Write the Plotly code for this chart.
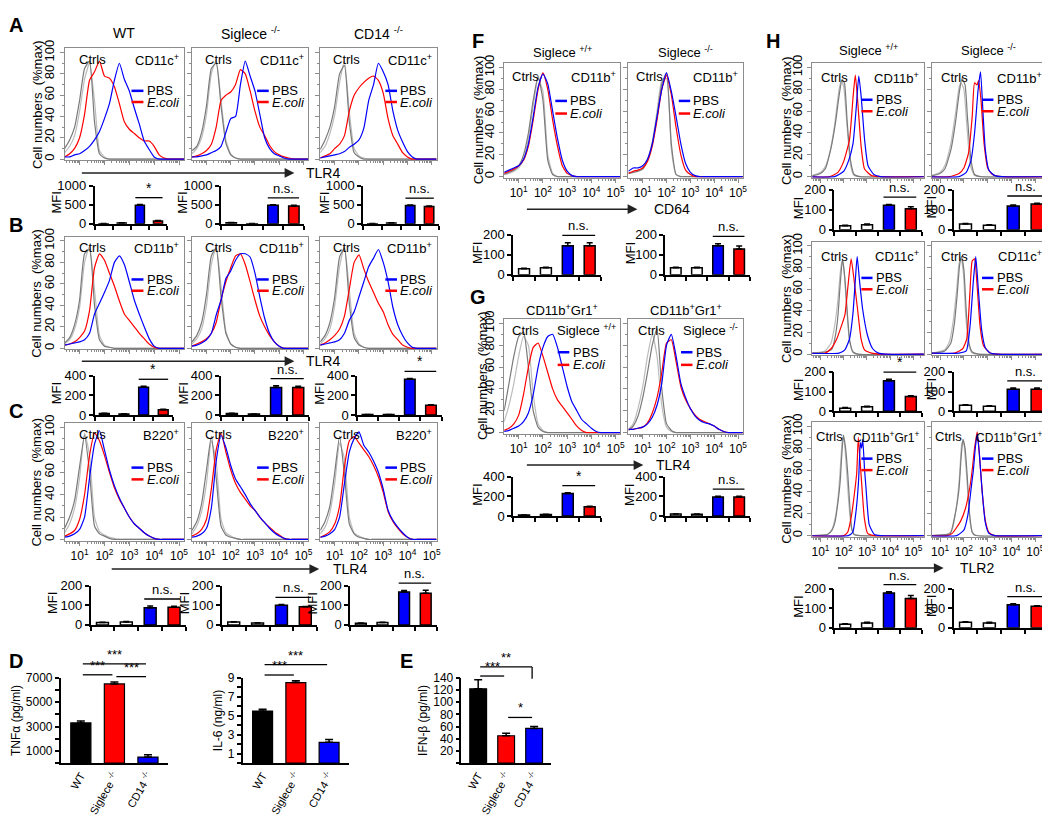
import plotly.graph_objects as go

W, H = 1050, 821
FONT = 'Liberation Sans, Arial, sans-serif'
FR = '#8c8c8c'
CT_DARK, CT_LIGHT = '#7a7a7a', '#bcbcbc'
BLUE, RED = '#0000ff', '#ff0000'

# ---------------- data: histogram curves (% of max) -----------------
# values read on a log10 grid of fluorescence (0.4 .. 5.2, step 0.2); missing tail = 0
GRID = [0.4, 0.6, 0.8, 1.0, 1.2, 1.4, 1.6, 1.8, 2.0, 2.2, 2.4, 2.6, 2.8,
        3.0, 3.2, 3.4, 3.6, 3.8, 4.0, 4.2, 4.4, 4.6, 4.8, 5.0, 5.2]

A_WT_C1 = [10, 18, 30, 55, 85, 92, 35, 5, 1, 0]
A_WT_C2 = [6, 12, 22, 45, 75, 90, 55, 8, 2, 0]
A_WT_PBS = [2, 2, 4, 5, 8, 12, 18, 26, 38, 52, 74, 90, 75, 64, 48, 33, 17, 9, 2, 0]
A_WT_EC = [2, 5, 10, 20, 42, 74, 82, 92, 78, 76, 68, 52, 35, 28, 24, 20, 17, 17, 12, 4, 1, 0]
A_SG_C1 = [8, 12, 25, 50, 85, 90, 50, 15, 4, 1, 0]
A_SG_C2 = [5, 10, 20, 42, 80, 93, 55, 18, 5, 1, 0]
A_SG_PBS = [2, 2, 3, 4, 6, 8, 12, 25, 38, 40, 70, 92, 78, 64, 42, 20, 10, 5, 3, 1, 0]
A_SG_EC = [2, 3, 5, 8, 14, 30, 55, 60, 63, 70, 84, 80, 64, 45, 30, 22, 13, 7, 4, 2, 1, 0]
A_CD_C1 = [9, 18, 30, 50, 80, 88, 35, 6, 2, 0]
A_CD_C2 = [6, 12, 24, 42, 72, 92, 45, 10, 3, 1, 0]
A_CD_PBS = [1, 2, 3, 4, 5, 7, 11, 14, 18, 29, 55, 70, 90, 82, 70, 45, 27, 16, 7, 2, 0]
A_CD_EC = [1, 3, 5, 10, 14, 22, 45, 60, 67, 72, 76, 78, 74, 62, 38, 22, 14, 6, 2, 0]

B_WT_C1 = [5, 10, 22, 45, 88, 92, 40, 8, 2, 1, 0]
B_WT_C2 = [4, 8, 18, 38, 80, 95, 55, 12, 3, 1, 0]
B_WT_PBS = [3, 4, 5, 6, 8, 14, 32, 42, 52, 63, 80, 86, 78, 62, 45, 32, 20, 9, 2, 0]
B_WT_EC = [3, 4, 6, 10, 16, 35, 75, 88, 82, 70, 58, 44, 32, 26, 20, 14, 9, 4, 1, 0]
B_SG_C1 = [6, 12, 24, 50, 86, 93, 48, 14, 4, 1, 0]
B_SG_C2 = [4, 9, 18, 40, 78, 95, 58, 16, 4, 1, 0]
B_SG_PBS = [2, 3, 5, 8, 14, 31, 45, 65, 72, 82, 88, 88, 85, 70, 48, 28, 14, 6, 2, 0]
B_SG_EC = [2, 4, 6, 9, 14, 24, 45, 62, 75, 86, 88, 78, 62, 45, 30, 20, 12, 6, 2, 0]
B_CD_C1 = [6, 12, 24, 48, 85, 93, 42, 10, 3, 1, 0]
B_CD_C2 = [4, 9, 18, 40, 76, 95, 55, 14, 4, 1, 0]
B_CD_PBS = [3, 4, 5, 6, 8, 14, 26, 34, 48, 62, 76, 84, 92, 80, 62, 38, 22, 12, 5, 1, 0]
B_CD_EC = [3, 5, 8, 12, 18, 30, 55, 80, 87, 74, 62, 52, 42, 34, 22, 13, 8, 3, 1, 0]

C_WT_C1 = [10, 20, 35, 65, 93, 60, 12, 5, 3, 1, 0]
C_WT_C2 = [6, 14, 28, 55, 95, 75, 20, 7, 4, 2, 1, 0]
C_WT_PBS = [2, 3, 5, 9, 20, 55, 85, 97, 80, 62, 48, 37, 28, 20, 14, 10, 6, 3, 1, 0]
C_WT_EC = [3, 5, 8, 18, 40, 75, 95, 88, 75, 60, 46, 36, 28, 20, 14, 10, 6, 3, 1, 0]
C_SG_C1 = [8, 16, 32, 62, 92, 55, 12, 4, 2, 1, 0]
C_SG_C2 = [5, 12, 25, 50, 88, 70, 18, 6, 3, 1, 0]
C_SG_PBS = [2, 3, 5, 10, 28, 70, 93, 82, 66, 54, 47, 40, 32, 26, 20, 15, 10, 6, 3, 1, 0]
C_SG_EC = [3, 5, 9, 18, 45, 80, 95, 78, 62, 50, 42, 36, 30, 26, 20, 15, 11, 7, 4, 1, 0]
C_CD_C1 = [8, 16, 30, 60, 92, 58, 14, 5, 2, 1, 0]
C_CD_C2 = [5, 11, 24, 50, 86, 72, 20, 6, 3, 1, 0]
C_CD_PBS = [2, 3, 5, 9, 20, 50, 78, 90, 96, 84, 78, 70, 60, 45, 26, 17, 11, 6, 2, 0]
C_CD_EC = [2, 4, 7, 14, 30, 65, 88, 92, 86, 80, 74, 66, 56, 42, 25, 16, 10, 5, 2, 0]

F_PP_C1 = [2, 4, 6, 10, 20, 40, 70, 92, 70, 15, 2, 0]
F_PP_C2 = [2, 3, 5, 8, 16, 35, 65, 90, 78, 20, 3, 0]
F_PP_PBS = [4, 6, 8, 10, 16, 30, 55, 82, 94, 85, 60, 35, 15, 5, 1, 0]
F_PP_EC = [3, 5, 7, 10, 15, 28, 52, 80, 95, 80, 52, 28, 10, 3, 1, 0]
F_KO_C1 = [3, 4, 5, 7, 15, 30, 55, 85, 95, 30, 2, 0]
F_KO_C2 = [3, 4, 5, 8, 16, 32, 60, 88, 90, 25, 2, 0]
F_KO_PBS = [5, 8, 8, 10, 16, 30, 55, 80, 95, 78, 55, 30, 12, 4, 1, 0]
F_KO_EC = [3, 5, 6, 8, 14, 28, 52, 80, 93, 75, 45, 20, 6, 2, 0]

G_PP_C1 = [20, 45, 70, 88, 92, 60, 20, 5, 1, 0]
G_PP_C2 = [10, 25, 45, 70, 88, 80, 35, 8, 2, 0]
G_PP_PBS = [1, 2, 4, 6, 10, 18, 35, 60, 78, 88, 90, 78, 60, 42, 28, 20, 12, 8, 4, 1, 0]
G_PP_EC = [2, 4, 8, 16, 35, 60, 78, 82, 70, 55, 40, 30, 24, 18, 12, 6, 2, 0]
G_KO_C1 = [2, 6, 15, 32, 55, 80, 95, 40, 8, 2, 0]
G_KO_C2 = [3, 8, 22, 42, 70, 90, 70, 25, 5, 1, 0]
G_KO_PBS = [3, 3, 4, 5, 8, 14, 25, 45, 80, 90, 70, 45, 32, 22, 15, 11, 9, 8, 6, 3, 1, 0]
G_KO_EC = [3, 3, 4, 5, 9, 18, 32, 55, 82, 85, 65, 42, 30, 22, 16, 12, 10, 8, 6, 3, 1, 0]

# panel H: (log10 fluorescence, % of max) pairs
H1A_C1 = [(0.65, 1), (1.0, 3), (1.2, 7), (1.45, 26), (1.65, 50), (1.8, 74), (1.93, 89), (2.03, 86), (2.15, 50), (2.3, 14), (2.45, 2), (2.7, 0)]
H1A_C2 = [(0.65, 1), (1.0, 4), (1.2, 9), (1.4, 22), (1.6, 46), (1.8, 80), (1.9, 88), (2.0, 82), (2.15, 45), (2.3, 10), (2.45, 1), (2.7, 0)]
H1A_PBS = [(1.6, 0), (2.0, 5), (2.2, 14), (2.4, 30), (2.55, 66), (2.65, 92), (2.75, 74), (2.9, 34), (3.05, 10), (3.3, 2), (3.6, 0)]
H1A_EC = [(1.4, 0), (1.75, 4), (2.0, 14), (2.25, 34), (2.4, 72), (2.5, 93), (2.6, 70), (2.75, 28), (2.9, 7), (3.2, 1), (3.6, 0)]
H1B_C1 = [(0.65, 1), (1.0, 3), (1.2, 7), (1.45, 24), (1.65, 50), (1.8, 76), (1.92, 90), (2.05, 84), (2.15, 55), (2.3, 15), (2.45, 2), (2.7, 0)]
H1B_C2 = [(0.65, 1), (1.0, 4), (1.2, 10), (1.45, 30), (1.65, 58), (1.8, 82), (1.88, 86), (2.0, 80), (2.12, 48), (2.28, 10), (2.45, 1), (2.7, 0)]
H1B_PBS = [(1.8, 0), (2.1, 4), (2.3, 15), (2.45, 40), (2.6, 80), (2.7, 96), (2.8, 60), (2.9, 25), (3.05, 6), (3.3, 1), (3.6, 0)]
H1B_EC = [(1.4, 0), (1.8, 3), (2.0, 8), (2.2, 22), (2.35, 55), (2.45, 86), (2.55, 84), (2.62, 88), (2.72, 70), (2.85, 30), (3.0, 8), (3.2, 2), (3.6, 0)]
H2A_C1 = [(0.65, 1), (1.2, 2), (1.5, 5), (1.65, 18), (1.75, 35), (1.85, 65), (1.95, 88), (2.05, 70), (2.15, 40), (2.25, 14), (2.4, 2), (2.6, 0)]
H2A_C2 = [(0.65, 1), (1.2, 3), (1.45, 10), (1.6, 25), (1.75, 50), (1.85, 75), (1.92, 86), (2.0, 80), (2.12, 45), (2.25, 12), (2.4, 2), (2.6, 0)]
H2A_PBS = [(1.8, 1), (2.05, 4), (2.25, 14), (2.4, 38), (2.5, 68), (2.58, 90), (2.68, 68), (2.82, 41), (3.03, 17), (3.25, 5), (3.5, 1), (3.8, 0)]
H2A_EC = [(1.2, 1), (1.45, 5), (1.7, 14), (1.9, 26), (2.05, 36), (2.18, 62), (2.32, 88), (2.45, 68), (2.6, 41), (2.75, 14), (2.9, 4), (3.2, 1), (3.6, 0)]
H2B_C1 = [(0.65, 1), (1.2, 3), (1.45, 10), (1.6, 28), (1.72, 55), (1.82, 82), (1.9, 90), (2.0, 78), (2.1, 40), (2.22, 10), (2.35, 2), (2.6, 0)]
H2B_C2 = [(0.65, 1), (1.2, 4), (1.4, 12), (1.55, 30), (1.7, 60), (1.8, 84), (1.88, 88), (1.98, 75), (2.08, 35), (2.2, 8), (2.35, 1), (2.6, 0)]
H2B_PBS = [(1.8, 1), (2.1, 3), (2.26, 26), (2.4, 68), (2.5, 90), (2.6, 62), (2.75, 22), (2.9, 6), (3.1, 1), (3.4, 0)]
H2B_EC = [(1.6, 1), (1.95, 5), (2.12, 14), (2.25, 55), (2.35, 86), (2.45, 88), (2.55, 65), (2.68, 26), (2.82, 8), (3.1, 1), (3.4, 0)]
H3A_C1 = [(0.65, 0), (1.3, 1), (1.5, 5), (1.62, 12), (1.75, 30), (1.85, 50), (1.92, 75), (1.99, 92), (2.08, 80), (2.18, 55), (2.27, 25), (2.35, 6), (2.45, 1), (2.7, 0)]
H3A_C2 = [(0.65, 0), (1.3, 1), (1.5, 6), (1.65, 18), (1.78, 40), (1.88, 70), (1.95, 90), (2.03, 85), (2.12, 60), (2.22, 30), (2.32, 8), (2.45, 1), (2.7, 0)]
H3A_PBS = [(2.2, 0), (2.39, 3), (2.53, 22), (2.64, 50), (2.72, 85), (2.77, 80), (2.82, 88), (2.9, 60), (2.96, 44), (3.1, 10), (3.32, 1), (3.6, 0)]
H3A_EC = [(2.0, 0), (2.17, 3), (2.34, 19), (2.46, 38), (2.56, 57), (2.63, 90), (2.7, 70), (2.8, 40), (2.89, 16), (3.03, 2), (3.3, 0)]
H3B_C1 = [(0.65, 0), (1.3, 1), (1.44, 2), (1.64, 20), (1.79, 41), (1.88, 70), (1.96, 88), (2.05, 80), (2.14, 55), (2.24, 20), (2.35, 3), (2.5, 0)]
H3B_C2 = [(0.65, 0), (1.3, 1), (1.5, 5), (1.68, 25), (1.82, 55), (1.92, 85), (1.98, 86), (2.08, 65), (2.18, 35), (2.28, 10), (2.4, 1), (2.6, 0)]
H3B_PBS = [(1.7, 0), (2.0, 5), (2.17, 19), (2.31, 44), (2.4, 60), (2.48, 80), (2.56, 93), (2.65, 75), (2.77, 40), (2.9, 12), (3.05, 2), (3.3, 0)]
H3B_EC = [(1.3, 0), (1.51, 2), (1.86, 13), (2.07, 25), (2.25, 44), (2.35, 60), (2.45, 80), (2.56, 95), (2.65, 75), (2.77, 40), (2.9, 14), (3.05, 3), (3.3, 0)]

# ---------------- data: MFI bars (ctrl1, ctrl2, PBS, E.coli) -----------------
A_WT_MFI, A_WT_ERR = [5, 25, 490, 75], [2, 4, 15, 10]
A_SG_MFI, A_SG_ERR = [30, 5, 490, 470], [5, 2, 10, 15]
A_CD_MFI, A_CD_ERR = [5, 25, 480, 455], [2, 4, 12, 12]
B_WT_MFI, B_WT_ERR = [15, 12, 285, 55], [3, 2, 8, 5]
B_SG_MFI, B_SG_ERR = [15, 10, 280, 280], [3, 2, 20, 15]
B_CD_MFI, B_CD_ERR = [5, 5, 365, 100], [2, 2, 8, 5]
C_WT_MFI, C_WT_ERR = [12, 15, 88, 90], [2, 2, 8, 5]
C_SG_MFI, C_SG_ERR = [15, 10, 100, 92], [1, 1, 4, 2]
C_CD_MFI, C_CD_ERR = [8, 12, 168, 162], [2, 2, 8, 15]
F_PP_MFI, F_PP_ERR = [30, 35, 145, 145], [3, 3, 15, 15]
F_KO_MFI, F_KO_ERR = [35, 35, 145, 128], [3, 3, 10, 15]
G_PP_MFI, G_PP_ERR = [10, 15, 230, 95], [2, 3, 8, 5]
G_KO_MFI, G_KO_ERR = [20, 18, 195, 195], [2, 2, 8, 6]
H1A_MFI, H1A_ERR = [20, 25, 122, 105], [3, 3, 4, 10]
H1B_MFI, H1B_ERR = [28, 22, 118, 128], [3, 3, 5, 4]
H2A_MFI, H2A_ERR = [15, 22, 155, 75], [3, 3, 8, 3]
H2B_MFI, H2B_ERR = [30, 25, 112, 112], [3, 3, 6, 6]
H3A_MFI, H3A_ERR = [18, 25, 178, 150], [3, 3, 6, 15]
H3B_MFI, H3B_ERR = [28, 25, 118, 110], [3, 3, 5, 3]

# ---------------- data: cytokines (WT, Siglece-/-, CD14-/-) -----------------
GENOTYPES = ['WT', 'Siglece <sup>-/-</sup>', 'CD14 <sup>-/-</sup>']
TNF, TNF_ERR = [3300, 6500, 500], [150, 150, 180]
IL6, IL6_ERR = [5.5, 8.5, 2.2], [0.2, 0.2, 0.3]
IFN, IFN_ERR = [122, 45, 57], [15, 4, 3]

DEC_VALS = [10, 100, 1000, 10000, 100000]
DEC_TEXT = ['10<sup>1</sup>', '10<sup>2</sup>', '10<sup>3</sup>', '10<sup>4</sup>', '10<sup>5</sup>']
MINOR_VALS = [m * 10 ** e for e in range(0, 6) for m in range(2, 10)]

fig = go.Figure()
layout = dict(width=W, height=H, margin=dict(l=0, r=0, t=0, b=0),
              paper_bgcolor='white', plot_bgcolor='white', showlegend=False,
              font=dict(family=FONT, size=12, color='black'))
ann, shp = [], []
cnt = [0]


def px(x):
    return x / W


def py(y):
    return 1 - y / H


def axes(x0, x1, y0, y1, xkw, ykw):
    cnt[0] += 1
    s = '' if cnt[0] == 1 else str(cnt[0])
    layout['xaxis' + s] = dict(domain=[px(x0), px(x1)], anchor='y' + s, **xkw)
    layout['yaxis' + s] = dict(domain=[py(y1), py(y0)], anchor='x' + s, **ykw)
    return 'x' + s, 'y' + s


def text(x, y, t, size=13, xa='center', ya='middle', xref='paper', yref='paper', angle=0):
    if xref == 'paper':
        x = px(x)
    if yref == 'paper':
        y = py(y)
    ann.append(dict(x=x, y=y, xref=xref, yref=yref, text=t, showarrow=False, xanchor=xa,
                    yanchor=ya, textangle=angle, borderpad=0,
                    font=dict(size=size, family=FONT, color='black')))


def hline(xa_px, xb_px, y_px, w=1.3):
    shp.append(dict(type='line', xref='paper', yref='paper', x0=px(xa_px), x1=px(xb_px),
                    y0=py(y_px), y1=py(y_px), line=dict(color='black', width=w)))


def arrow(xs, xe, y, label, lx):
    ann.append(dict(x=px(xe), y=py(y), xref='paper', yref='paper', ax=-(xe - xs), ay=0,
                    axref='pixel', ayref='pixel', text='', showarrow=True, arrowhead=2,
                    arrowsize=1.3, arrowwidth=1.5, arrowcolor='#222222'))
    text(lx, y, label, size=14, xa='left')


def curve_xy(c):
    if isinstance(c[0], tuple):
        xs = [p[0] for p in c]
        ys = [p[1] for p in c]
        xs = [0.3] + xs + [5.6]
        ys = [ys[0]] + ys + [0]
    else:
        xs = GRID
        ys = list(c) + [0] * (len(GRID) - len(c))
    return [10 ** v for v in xs], ys


def hist(x0, x1, y0, y1, curves, label, xr=(0.4, 5.2), ylab=False, xlab=False,
         ctrl_x=0.23, leg_x=0.56, leg_y=(0.62, 0.52), lab_y=0.9, lab_size=13):
    xa, ya = axes(x0, x1, y0, y1,
                  dict(type='log', range=list(xr), showline=True, mirror=True, linecolor=FR,
                       linewidth=1, ticks='outside', ticklen=4, tickcolor=FR,
                       tickmode='array', tickvals=DEC_VALS, ticktext=DEC_TEXT,
                       showticklabels=xlab, tickfont=dict(size=12), showgrid=False,
                       zeroline=False,
                       minor=dict(tickmode='array', tickvals=MINOR_VALS, ticks='outside',
                                  ticklen=2, tickcolor=FR, showgrid=False)),
                  dict(range=[-1, 104], tickmode='array', tickvals=[0, 20, 40, 60, 80, 100],
                       showticklabels=ylab, tickangle=-90, ticks='outside', ticklen=4,
                       tickcolor=FR, showline=True, mirror=True, linecolor=FR, linewidth=1,
                       showgrid=False, zeroline=False, tickfont=dict(size=13),
                       minor=dict(dtick=10, ticks='outside', ticklen=2, tickcolor=FR)))
    c1, c2, pbs, ec = curves
    for c, col in [(c2, CT_LIGHT), (c1, CT_DARK), (ec, RED), (pbs, BLUE)]:
        xs, ys = curve_xy(c)
        fig.add_trace(go.Scatter(x=xs, y=ys, xaxis=xa, yaxis=ya, mode='lines',
                                 line=dict(color=col, width=1.2, shape='spline', smoothing=0.5),
                                 hoverinfo='skip'))
    dx, dy = xa + ' domain', ya + ' domain'
    text(ctrl_x, lab_y, 'Ctrls', xref=dx, yref=dy)
    text(0.97, lab_y, label, size=lab_size, xa='right', xref=dx, yref=dy)
    for yy, col, t in [(leg_y[0], BLUE, 'PBS'), (leg_y[1], RED, '<i>E.coli</i>')]:
        shp.append(dict(type='line', xref=dx, yref=dy, x0=leg_x, x1=leg_x + 0.1, y0=yy, y1=yy,
                        line=dict(color=col, width=2.5)))
        text(leg_x + 0.12, yy, t, xa='left', xref=dx, yref=dy)
    return xa, ya


def mfi(x0, x1, y0, y1, vals, errs, ymax, tvals, sig, title_off=38):
    xa, ya = axes(x0, x1, y0, y1,
                  dict(range=[-0.5, 3.5], tickmode='array', tickvals=[-0.5, 0.5, 1.5, 2.5, 3.5],
                       showticklabels=False, ticks='outside', ticklen=4, tickwidth=1.5,
                       tickcolor='black', showline=True, linecolor='black', linewidth=1.5,
                       showgrid=False, zeroline=False),
                  dict(range=[0, ymax], tickmode='array', tickvals=tvals, ticks='outside',
                       ticklen=4, tickwidth=1.5, tickcolor='black', showline=True,
                       linecolor='black', linewidth=1.5, showgrid=False, zeroline=False,
                       tickfont=dict(size=13)))
    fig.add_trace(go.Bar(x=[0, 1, 2, 3], y=vals, xaxis=xa, yaxis=ya, width=0.5,
                         marker=dict(color=['white', 'white', BLUE, RED],
                                     line=dict(color='black', width=1.5)),
                         error_y=dict(type='data', symmetric=False, array=errs,
                                      arrayminus=[0, 0, 0, 0], color='black', thickness=1.5,
                                      width=3),
                         hoverinfo='skip'))
    text(x0 - title_off, (y0 + y1) / 2 - 2, 'MFI', angle=-90)
    top = max(v + e for v, e in zip(vals[2:], errs[2:])) + 0.18 * ymax
    ypx = y1 - (y1 - y0) * top / ymax
    xl = x0 + (x1 - x0) * (1.75 + 0.5) / 4
    xr = x0 + (x1 - x0) * (3.25 + 0.5) / 4
    hline(xl, xr, ypx)
    text((xl + xr) / 2, ypx - 1, sig, size=14 if sig == '*' else 13, ya='bottom')


def cyto(x0, x1, y0, y1, vals, errs, ymax, tvals, ttext, ytitle, brackets):
    xa, ya = axes(x0, x1, y0, y1,
                  dict(range=[-0.6, 2.6], tickmode='array', tickvals=[0, 1, 2],
                       ticktext=GENOTYPES, tickangle=-60, ticks='', showline=True,
                       linecolor='black', linewidth=1.5, showgrid=False, zeroline=False,
                       tickfont=dict(size=11)),
                  dict(range=[0, ymax], tickmode='array', tickvals=tvals, ticktext=ttext,
                       ticks='outside', ticklen=4, tickwidth=1.5, tickcolor='black',
                       showline=True, linecolor='black', linewidth=1.5, showgrid=False,
                       zeroline=False, tickfont=dict(size=12),
                       title=dict(text=ytitle, font=dict(size=12), standoff=3)))
    fig.add_trace(go.Bar(x=[0, 1, 2], y=vals, xaxis=xa, yaxis=ya, width=0.6,
                         marker=dict(color=['black', RED, BLUE],
                                     line=dict(color='black', width=1.2)),
                         error_y=dict(type='data', symmetric=False, array=errs,
                                      arrayminus=[0, 0, 0], color='black', thickness=1.5,
                                      width=4),
                         hoverinfo='skip'))
    for i, j, yv, t, drop in brackets:
        ypx = y1 - (y1 - y0) * yv / ymax
        xl = x0 + (x1 - x0) * (i + 0.6) / 3.2 + 2
        xr = x0 + (x1 - x0) * (j + 0.6) / 3.2 - 2
        hline(xl, xr, ypx)
        if drop:
            shp.append(dict(type='line', xref='paper', yref='paper', x0=px(xr), x1=px(xr),
                            y0=py(ypx), y1=py(ypx + drop), line=dict(color='black', width=1.3)))
        text((xl + xr) / 2, ypx - 1, t, size=13, ya='bottom')


# ---------------- panel letters ----------------
for L, x, y in [('A', 7, 9), ('B', 7, 213), ('C', 7, 403), ('F', 472, 25), ('G', 472, 287),
                ('H', 768, 25), ('D', 7, 658), ('E', 400, 658)]:
    text(x, y, '<b>' + L + '</b>', size=20)

# ---------------- A, B, C ----------------
COLS_X = [(56, 176), (184, 301), (313, 430)]
for (x0, x1), t in zip(COLS_X, ['WT', 'Siglece <sup>-/-</sup>', 'CD14 <sup>-/-</sup>']):
    text((x0 + x1) / 2, 17, t, size=14)

rows = [
    ((33, 147), 'CD11c<sup>+</sup>', [(A_WT_C1, A_WT_C2, A_WT_PBS, A_WT_EC),
                                      (A_SG_C1, A_SG_C2, A_SG_PBS, A_SG_EC),
                                      (A_CD_C1, A_CD_C2, A_CD_PBS, A_CD_EC)], False),
    ((225, 340), 'CD11b<sup>+</sup>', [(B_WT_C1, B_WT_C2, B_WT_PBS, B_WT_EC),
                                       (B_SG_C1, B_SG_C2, B_SG_PBS, B_SG_EC),
                                       (B_CD_C1, B_CD_C2, B_CD_PBS, B_CD_EC)], False),
    ((415, 535), 'B220<sup>+</sup>', [(C_WT_C1, C_WT_C2, C_WT_PBS, C_WT_EC),
                                      (C_SG_C1, C_SG_C2, C_SG_PBS, C_SG_EC),
                                      (C_CD_C1, C_CD_C2, C_CD_PBS, C_CD_EC)], True),
]
for (y0, y1), lab, curves, xlab in rows:
    for k, ((x0, x1), cv) in enumerate(zip(COLS_X, curves)):
        hist(x0, x1, y0, y1, cv, lab, ylab=(k == 0), xlab=xlab)
    text(28, (y0 + y1) / 2, 'Cell numbers  (%max)', angle=-90)

arrow(73, 287, 160, 'TLR4', 298)
arrow(73, 287, 352, 'TLR4', 298)
arrow(103, 312, 564, 'TLR4', 325)

mfi(86, 159, 173, 212, A_WT_MFI, A_WT_ERR, 1000, [0, 500, 1000], '*')
mfi(213, 297, 173, 212, A_SG_MFI, A_SG_ERR, 1000, [0, 500, 1000], 'n.s.')
mfi(356, 432, 173, 212, A_CD_MFI, A_CD_ERR, 1000, [0, 500, 1000], 'n.s.')
mfi(86, 165, 367, 407, B_WT_MFI, B_WT_ERR, 400, [0, 200, 400], '*')
mfi(213, 302, 367, 407, B_SG_MFI, B_SG_ERR, 400, [0, 200, 400], 'n.s.')
mfi(350, 435, 367, 407, B_CD_MFI, B_CD_ERR, 400, [0, 200, 400], '*')
mfi(82, 178, 581, 621, C_WT_MFI, C_WT_ERR, 200, [0, 100, 200], 'n.s.')
mfi(214, 310, 581, 621, C_SG_MFI, C_SG_ERR, 200, [0, 100, 200], 'n.s.')
mfi(343, 430, 581, 621, C_CD_MFI, C_CD_ERR, 200, [0, 100, 200], 'n.s.')

# ---------------- F, G ----------------
FG_X = [(498, 615), (623, 738)]
for (x0, x1), t in zip(FG_X, ['Siglece <sup>+/+</sup>', 'Siglece <sup>-/-</sup>']):
    text((x0 + x1) / 2, 37, t, size=13)
    text((x0 + x1) / 2, 300, 'CD11b<sup>+</sup>Gr1<sup>+</sup>', size=13)
hist(498, 615, 48, 165, (F_PP_C1, F_PP_C2, F_PP_PBS, F_PP_EC), 'CD11b<sup>+</sup>',
     ylab=True, xlab=True, ctrl_x=0.18, leg_x=0.44, leg_y=(0.67, 0.56), lab_y=0.88)
hist(623, 738, 48, 165, (F_KO_C1, F_KO_C2, F_KO_PBS, F_KO_EC), 'CD11b<sup>+</sup>',
     xlab=True, ctrl_x=0.18, leg_x=0.44, leg_y=(0.67, 0.56), lab_y=0.88)
text(473, 106, 'Cell numbers  (%max)', angle=-90)
hist(498, 615, 309, 426, (G_PP_C1, G_PP_C2, G_PP_PBS, G_PP_EC), 'Siglece <sup>+/+</sup>',
     ylab=True, xlab=True, ctrl_x=0.18, leg_x=0.46, leg_y=(0.71, 0.6), lab_y=0.9)
hist(623, 738, 309, 426, (G_KO_C1, G_KO_C2, G_KO_PBS, G_KO_EC), 'Siglece <sup>-/-</sup>',
     xlab=True, ctrl_x=0.2, leg_x=0.46, leg_y=(0.71, 0.6), lab_y=0.9)
text(477, 367, 'Cell numbers  (%max)', angle=-90)
arrow(520, 632, 197, 'CD64', 648)
arrow(520, 638, 458, 'TLR4', 650)
mfi(507, 595, 223, 264, F_PP_MFI, F_PP_ERR, 200, [0, 100, 200], 'n.s.', 36)
mfi(660, 745, 223, 264, F_KO_MFI, F_KO_ERR, 200, [0, 100, 200], 'n.s.', 35)
mfi(507, 595, 470, 510, G_PP_MFI, G_PP_ERR, 400, [0, 200, 400], '*', 36)
mfi(660, 745, 470, 510, G_KO_MFI, G_KO_ERR, 400, [0, 200, 400], 'n.s.', 36)

# ---------------- H ----------------
text(864, 35, 'Siglece <sup>+/+</sup>', size=13)
text(985, 35, 'Siglece <sup>-/-</sup>', size=13)
H_ROWS = [
    ((48, 165), (177, 218), 'CD11b<sup>+</sup>', (H1A_C1, H1A_C2, H1A_PBS, H1A_EC),
     (H1B_C1, H1B_C2, H1B_PBS, H1B_EC), (H1A_MFI, H1A_ERR, 'n.s.'), (H1B_MFI, H1B_ERR, 'n.s.')),
    ((230, 346), (363, 403), 'CD11c<sup>+</sup>', (H2A_C1, H2A_C2, H2A_PBS, H2A_EC),
     (H2B_C1, H2B_C2, H2B_PBS, H2B_EC), (H2A_MFI, H2A_ERR, '*'), (H2B_MFI, H2B_ERR, 'n.s.')),
    ((414, 531), (584, 624), 'CD11b<sup>+</sup>Gr1<sup>+</sup>', (H3A_C1, H3A_C2, H3A_PBS, H3A_EC),
     (H3B_C1, H3B_C2, H3B_PBS, H3B_EC), (H3A_MFI, H3A_ERR, 'n.s.'), (H3B_MFI, H3B_ERR, 'n.s.')),
]
for r, ((y0, y1), (m0, m1), lab, ca, cb, ma, mb) in enumerate(H_ROWS):
    ls = 12 if r == 2 else 13
    cx = 0.15 if r == 2 else 0.2
    hist(808, 920, y0, y1, ca, lab, xr=(0.65, 5.45), ylab=True, xlab=(r == 2),
         ctrl_x=cx, leg_x=0.44, leg_y=(0.68, 0.58), lab_y=0.87, lab_size=ls)
    hist(928, 1043, y0, y1, cb, lab, xr=(0.65, 5.45), xlab=(r == 2),
         ctrl_x=cx, leg_x=0.44, leg_y=(0.68, 0.58), lab_y=0.87, lab_size=ls)
    text(782, (y0 + y1) / 2, 'Cell numbers  (%max)', angle=-90)
    mfi(830, 918, m0, m1, ma[0], ma[1], 200, [0, 100, 200], ma[2], 36)
    mfi(950, 1046, m0, m1, mb[0], mb[1], 200, [0, 100, 200], mb[2], 22)
arrow(833, 940, 563, 'TLR2', 955)

# ---------------- D, E ----------------
cyto(52, 160, 675, 762, TNF, TNF_ERR, 7000, [0, 1000, 2000, 3000, 4000, 5000, 6000, 7000],
     ['', '1000', '', '3000', '', '5000', '', '7000'], 'TNFα (pg/ml)',
     [(0, 1, 7250, '***', 0), (0, 2, 8150, '***', 0), (1, 2, 7100, '***', 0)])
cyto(235, 342, 675, 762, IL6, IL6_ERR, 9, [0, 1, 2, 3, 4, 5, 6, 7, 8, 9],
     ['', '1', '', '3', '', '5', '', '7', '', '9'], 'IL-6 (ng/ml)',
     [(0, 1, 9.3, '***', 0), (0, 2, 10.4, '***', 0)])
cyto(455, 545, 675, 762, IFN, IFN_ERR, 140, [0, 20, 40, 60, 80, 100, 120, 140],
     ['', '20', '40', '60', '80', '100', '120', '140'], 'IFN-β (pg/ml)',
     [(0, 1, 143, '***', 0), (0, 2, 158, '**', 12), (1, 2, 75, '*', 0)])

layout['annotations'] = ann
layout['shapes'] = shp
fig.update_layout(**layout)
fig.write_html('out.html')
